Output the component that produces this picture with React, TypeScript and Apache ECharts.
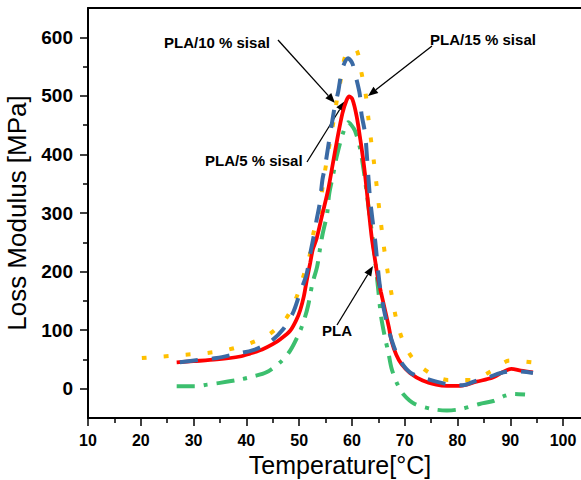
import React, { useEffect, useRef } from "react";
import * as echarts from "echarts";

// ---- Data (Temperature °C, Loss modulus MPa) ----
const T_PLA = [26.8, 30, 34.4, 38.8, 40.7, 43, 45, 46.5, 48.3, 49.5, 50.2, 50.9, 51.4, 52.1, 52.6, 53.3, 54.4, 55.5, 56.4, 57.2, 58.2, 59, 59.5, 60.1, 60.9, 61.6, 62.3, 62.8, 63.7, 64.3, 64.9, 65.5, 66.25, 67, 67.5, 68.4, 69.4, 71, 73.4, 76, 78, 80.5, 83.6, 86.7, 88.5, 90.2, 92, 94.3];
const M_PLA = [45, 47, 50, 55, 60, 67, 76, 85, 99, 118, 134, 158, 183, 215, 238, 256, 298, 340, 385, 425, 470, 493, 499, 494, 465, 425, 380, 339, 262, 225, 190, 165, 135, 105, 82, 58, 42, 27, 14, 7, 5, 5, 12, 19, 28, 34, 31, 28];

const T_PLA5 = [27.4, 30.9, 34.4, 37.8, 41.3, 44.5, 47, 48.9, 50.2, 51.4, 52.2, 52.8, 53.3, 53.9, 54.4, 54.9, 55.5, 56.1, 56.8, 57.4, 58.2, 59.3, 60.1, 60.9, 61.5, 61.8, 62.5, 62.8, 63.4, 63.9, 64.4, 65.3, 66.3, 67.5, 69, 71, 74.1, 77.9, 81, 83.6, 86, 88.7, 91.2, 94.3];
const M_PLA5 = [45, 49, 52.5, 59, 66, 80, 102, 131, 165, 195, 235, 262, 288, 316, 356, 379, 413, 447, 484, 507, 547, 564, 555, 527, 502, 470, 436, 402, 328, 288, 253, 175, 125, 84, 50, 28, 17, 8, 6, 14, 20, 28, 30, 27];

const T_PLA10 = [26.8, 30.3, 32.6, 35, 38.9, 41.3, 43.8, 46.4, 48.3, 50.2, 51.1, 51.7, 52.5, 53.4, 53.9, 54.4, 55.3, 55.7, 56.5, 57.1, 58.3, 59.3, 59.9, 60.6, 61.5, 62.2, 62.8, 63.3, 63.9, 64.4, 65, 65.5, 66.2, 66.9, 67.5, 68.5, 69.7, 71.9, 75.4, 78, 80.5, 84.2, 86.8, 89, 90.5, 92.8];
const M_PLA10 = [4, 4, 7, 10, 16, 21, 28, 45, 65, 99, 122, 142, 179, 208, 236, 262, 299, 333, 368, 396, 436, 455, 450, 440, 412, 375, 335, 299, 259, 219, 168, 125, 90, 62, 35, 10, -9, -26, -35, -37, -35, -26, -21, -12, -9, -10];

const T_PLA15 = [20.2, 24.1, 28.4, 32.6, 36.7, 40.8, 44.5, 47.6, 49.4, 50.8, 52, 52.7, 53.8, 54.6, 55.7, 56.5, 57.1, 57.9, 58.7, 59.8, 60.9, 61.8, 62.6, 63.1, 63.6, 64.2, 64.7, 65.2, 65.7, 66.2, 66.8, 67.5, 68.3, 69.4, 71.4, 74.5, 78.2, 82.6, 86.4, 89.9, 94];
const M_PLA15 = [52.5, 55, 58, 61, 67, 78, 94, 121, 154, 192, 228, 265, 302, 355, 414, 456, 490, 528, 567, 580, 578, 540, 503, 463, 426, 385, 345, 305, 268, 233, 198, 162, 123, 88, 53, 28, 15, 15, 30, 48, 45];

const X_MAJOR = [10, 20, 30, 40, 50, 60, 70, 80, 90, 100];
const X_MINOR = [15, 25, 35, 45, 55, 65, 75, 85, 95];
const Y_MAJOR = [0, 100, 200, 300, 400, 500, 600];
const Y_MINOR = [50, 150, 250, 350, 450, 550];

const zip = (a: number[], b: number[]) => a.map((v, i) => [v, b[i]]);

const FONT = '"Liberation Sans", Arial, sans-serif';

function arrow(x1: number, y1: number, x2: number, y2: number) {
  const dx = x2 - x1, dy = y2 - y1;
  const len = Math.hypot(dx, dy);
  const ux = dx / len, uy = dy / len;
  const hl = 10, hw = 4;
  const bx = x2 - ux * hl, by = y2 - uy * hl;
  return [
    { type: "line", shape: { x1, y1, x2: bx, y2: by }, style: { stroke: "#000", lineWidth: 1.3 } },
    {
      type: "polygon",
      shape: { points: [[x2, y2], [bx - uy * hw, by + ux * hw], [bx + uy * hw, by - ux * hw]] },
      style: { fill: "#000" },
    },
  ];
}

function label(text: string, x: number, y: number) {
  return {
    type: "text",
    x,
    y,
    style: {
      text,
      fontSize: 15,
      fontWeight: "bold",
      fontFamily: FONT,
      fill: "#000",
      align: "left",
      verticalAlign: "middle",
    },
  };
}

export default function App() {
  const ref = useRef<HTMLDivElement>(null);
  useEffect(() => {
    if (!ref.current) return;
    const chart = echarts.init(ref.current, undefined, { renderer: "svg" });
    const axisLine = { show: true, onZero: false, lineStyle: { color: "#000", width: 2 } };
    chart.setOption({
      animation: false,
      backgroundColor: "#fff",
      grid: { left: 88, top: 8, right: 0, bottom: 62, containLabel: false, outerBoundsMode: "none" },
      xAxis: [
        {
          type: "value",
          min: 10,
          max: 103.4,
          name: "Temperature[°C]",
          nameLocation: "middle",
          nameGap: 34,
          nameTextStyle: { fontSize: 25, fontFamily: FONT, color: "#000", padding: [0, 0, 0, 11] },
          axisLine: axisLine,
          axisTick: { show: true, customValues: X_MAJOR, length: 8, lineStyle: { color: "#000", width: 1.5 } },
          axisLabel: {
            customValues: X_MAJOR,
            fontSize: 16,
            fontWeight: "bold",
            fontFamily: FONT,
            color: "#000",
            margin: 14,
          },
          splitLine: { show: false },
        },
        {
          type: "value",
          min: 10,
          max: 103.4,
          position: "bottom",
          offset: 0,
          axisLine: { show: false, onZero: false },
          axisTick: { show: true, customValues: X_MINOR, length: 5, lineStyle: { color: "#000", width: 1.5 } },
          axisLabel: { show: false },
          splitLine: { show: false },
        },
        {
          type: "value",
          min: 10,
          max: 103.4,
          position: "top",
          axisLine: axisLine,
          axisTick: { show: false },
          axisLabel: { show: false },
          splitLine: { show: false },
        },
      ],
      yAxis: [
        {
          type: "value",
          min: -50,
          max: 650,
          name: "Loss Modulus [MPa]",
          nameLocation: "middle",
          nameGap: 50,
          nameTextStyle: { fontSize: 26, fontFamily: FONT, color: "#000" },
          axisLine: axisLine,
          axisTick: { show: true, customValues: Y_MAJOR, length: 8, lineStyle: { color: "#000", width: 1.5 } },
          axisLabel: {
            customValues: Y_MAJOR,
            fontSize: 19,
            fontWeight: "bold",
            fontFamily: FONT,
            color: "#000",
            margin: 15,
          },
          splitLine: { show: false },
        },
        {
          type: "value",
          min: -50,
          max: 650,
          position: "left",
          offset: 0,
          axisLine: { show: false, onZero: false },
          axisTick: { show: true, customValues: Y_MINOR, length: 5, lineStyle: { color: "#000", width: 1.5 } },
          axisLabel: { show: false },
          splitLine: { show: false },
        },
      ],
      series: [
        {
          name: "PLA/10 % sisal",
          type: "line",
          data: zip(T_PLA10, M_PLA10),
          showSymbol: false,
          smooth: 0.3,
          lineStyle: { color: "#3cbf6e", width: 4, type: [18, 9, 4, 9] },
        },
        {
          name: "PLA/15 % sisal",
          type: "line",
          data: zip(T_PLA15, M_PLA15),
          showSymbol: false,
          smooth: 0.3,
          lineStyle: { color: "#ffc000", width: 4, type: [5, 17] },
        },
        {
          name: "PLA",
          type: "line",
          data: zip(T_PLA, M_PLA),
          showSymbol: false,
          smooth: 0.3,
          lineStyle: { color: "#ff0000", width: 3.8, type: "solid" },
        },
        {
          name: "PLA/5 % sisal",
          type: "line",
          data: zip(T_PLA5, M_PLA5),
          showSymbol: false,
          smooth: 0.3,
          lineStyle: { color: "#3a6aa5", width: 4, type: [18, 14] },
        },
      ],
      graphic: [
        ...arrow(278, 40, 335, 103),
        ...arrow(432, 46, 368, 96),
        ...arrow(307, 162, 345, 101),
        ...arrow(337, 325, 373, 266),
        label("PLA/10 % sisal", 164, 42),
        label("PLA/15 % sisal", 430, 39),
        label("PLA/5 % sisal", 205, 160),
        label("PLA", 322, 330),
      ],
    });
    return () => chart.dispose();
  }, []);
  return (
    <div
      ref={ref}
      style={{ position: "fixed", left: 0, top: 0, width: 581, height: 480 }}
    />
  );
}
